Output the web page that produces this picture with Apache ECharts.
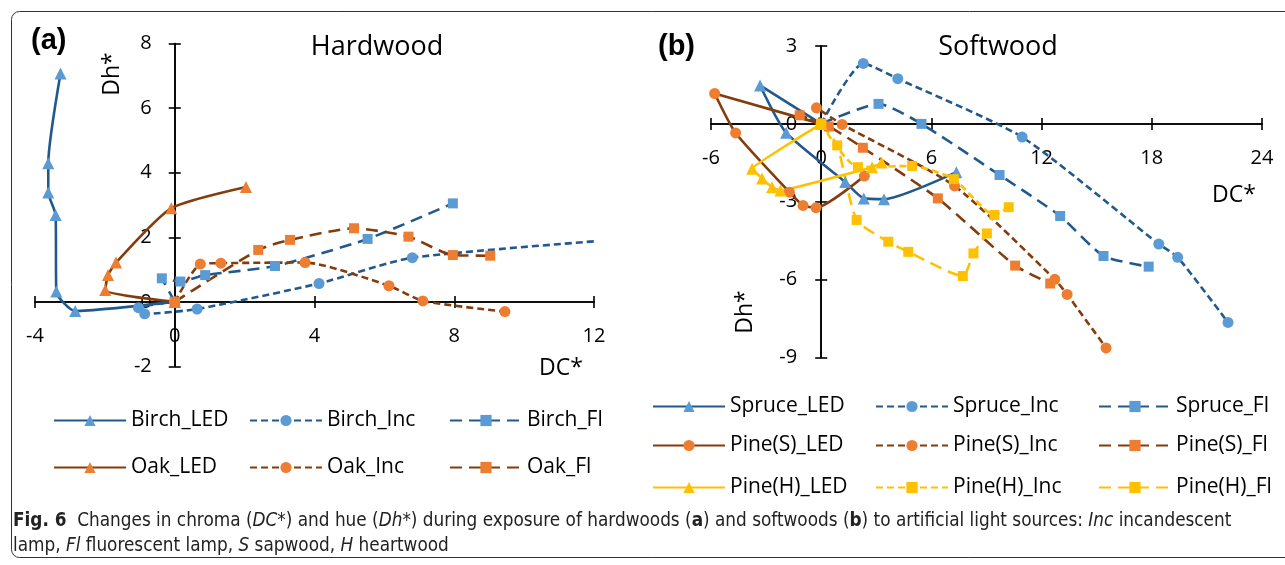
<!DOCTYPE html>
<html>
<head>
<meta charset="UTF-8">
<title>Fig. 6 DC* / Dh*</title>
<script src="https://cdn.jsdelivr.net/npm/echarts@6/dist/echarts.min.js"></script>
<style>
    html, body { margin: 0; padding: 0; background: #fff; }
    #chart { width: 1285px; height: 565px; }
</style>
</head>
<body>
<div id="chart"></div>
<script>
    // ---- data: [DC*, Dh*] pairs ----
    // (a) hardwood
    const birchLED = [[0, 0], [-2.85, -0.28], [-3.39, 0.32], [-3.41, 2.69], [-3.62, 3.39], [-3.62, 4.29], [-3.27, 7.07]];
    const birchInc = [[0, 0], [-1.04, -0.18], [-0.86, -0.37], [0.64, -0.22], [4.13, 0.57], [6.8, 1.37], [14.5, 2.08]];
    const birchFl = [[0, 0], [-0.37, 0.73], [0.16, 0.63], [0.87, 0.83], [2.87, 1.11], [5.52, 1.95], [7.96, 3.05]];
    const oakLED = [[0, 0], [-1.99, 0.37], [-1.91, 0.83], [-1.68, 1.22], [-0.1, 2.9], [2.04, 3.56]];
    const oakInc = [[0, 0], [0.73, 1.17], [1.32, 1.2], [3.73, 1.22], [6.13, 0.5], [7.1, 0.03], [9.45, -0.3]];
    const oakFl = [[0, 0], [2.39, 1.61], [3.3, 1.92], [5.13, 2.28], [6.69, 2.02], [7.96, 1.45], [9.03, 1.43]];
    // (b) softwood
    const spruceLED = [[0, 0], [-3.33, 1.48], [-1.91, -0.34], [1.31, -2.24], [2.32, -2.87], [3.42, -2.9], [7.36, -1.86]];
    const spruceInc = [[0, 0], [2.29, 2.33], [4.17, 1.74], [10.94, -0.51], [18.38, -4.63], [19.41, -5.14], [22.15, -7.65]];
    const spruceFl = [[0, 0], [3.12, 0.77], [5.46, 0], [9.71, -1.97], [13.01, -3.55], [15.37, -5.09], [17.83, -5.5]];
    const pineSLED = [[0, 0], [-5.8, 1.17], [-4.66, -0.35], [-1.73, -2.63], [-0.99, -3.14], [-0.28, -3.23], [2.35, -2.01]];
    const pineSInc = [[0, 0], [-0.26, 0.62], [1.14, -0.02], [7.26, -2.39], [12.72, -5.99], [13.39, -6.57], [15.51, -8.63]];
    const pineSFl = [[0, 0], [-1.17, 0.33], [0.41, -0.1], [2.27, -0.92], [6.35, -2.87], [10.56, -5.46], [12.47, -6.15]];
    const pineHLED = [[0, 0], [-3.76, -1.73], [-3.22, -2.1], [-2.68, -2.44], [-2.22, -2.57], [2.77, -1.67], [3.29, -1.49]];
    const pineHInc = [[0, 0], [2.0, -1.67], [4.95, -1.62], [7.22, -2.13], [9.43, -3.51], [10.21, -3.21]];
    const pineHFl = [[0, 0], [0.87, -0.83], [1.93, -3.7], [3.65, -4.54], [4.74, -4.93], [7.71, -5.86], [8.29, -4.99], [9.02, -4.22]];

    const hardNames = ['Birch_LED', 'Birch_Inc', 'Birch_Fl', 'Oak_LED', 'Oak_Inc', 'Oak_Fl'];
    const softNames = ['Spruce_LED', 'Spruce_Inc', 'Spruce_Fl', 'Pine(S)_LED', 'Pine(S)_Inc', 'Pine(S)_Fl',
        'Pine(H)_LED', 'Pine(H)_Inc', 'Pine(H)_Fl'];
    const hardData = [birchLED, birchInc, birchFl, oakLED, oakInc, oakFl];
    const softData = [spruceLED, spruceInc, spruceFl, pineSLED, pineSInc, pineSFl, pineHLED, pineHInc, pineHFl];

    const hardX = [-4, 12, 4];   // min, max, step
    const hardY = [-2, 8, 2];
    const softX = [-6, 24, 6];
    const softY = [-9, 3, 3];

    // ---- styles ----
    const FONT = '"Open Sans", sans-serif';
    const lineColors = { blue: '#22598c', brown: '#843c0c', gold: '#ffc000' };
    const markColors = { blue: '#5b9bd5', brown: '#ed7d31', gold: '#ffc000' };
    const dashes = { LED: 'solid', Inc: [7, 4], Fl: [12, 7] };
    const straighter = ['Pine(H)_LED'];  // drawn with almost straight segments

    const gridA = { left: 35, top: 43.5, width: 559, height: 323 };
    const gridB = { left: 711, top: 46, width: 551, height: 311.5 };

    function styleFor(name) {
        const light = name.split('_')[1];
        let fam = 'blue';
        if (name.startsWith('Oak') || name.startsWith('Pine(S)')) fam = 'brown';
        if (name.startsWith('Pine(H)')) fam = 'gold';
        let symbol = light === 'LED' ? 'triangle' : (light === 'Inc' ? 'circle' : 'rect');
        if (name === 'Pine(S)_LED') symbol = 'circle';
        if (name === 'Pine(H)_Inc') symbol = 'rect';
        return { fam, light, symbol };
    }

    function makeSeries(name, data, axisIdx) {
        const s = styleFor(name);
        return {
            name: name,
            type: 'line',
            xAxisIndex: axisIdx,
            yAxisIndex: axisIdx,
            data: data,
            smooth: straighter.includes(name) ? 0.06 : 0.2,
            clip: true,
            symbol: s.symbol,
            symbolSize: s.symbol === 'triangle' ? 12 : (s.symbol === 'circle' ? 11 : 10),
            showAllSymbol: true,
            lineStyle: { color: lineColors[s.fam], width: 2.6, type: dashes[s.light] },
            itemStyle: { color: markColors[s.fam], borderWidth: 0 },
            emphasis: { disabled: true },
            z: 3
        };
    }

    // axes crossing at (0,0): shift them in from the grid edge with "offset";
    // a twin axis on the opposite side gives the tick marks that cross the line
    const axisLine = { show: true, onZero: false, lineStyle: { color: '#000', width: 1.6 } };
    const tick = { length: 6, lineStyle: { color: '#000', width: 1.6 } };

    function axesFor(grid, g, xr, yr, xMargin, yMargin) {
        const fromBottom = g.height * (0 - yr[0]) / (yr[1] - yr[0]);
        const fromLeft = g.width * (0 - xr[0]) / (xr[1] - xr[0]);
        const base = (r) => ({ gridIndex: grid, type: 'value', min: r[0], max: r[1], interval: r[2], splitLine: { show: false } });
        const lbl = (m) => ({ margin: m, color: '#000', fontSize: 20, fontFamily: FONT, showMinLabel: true, showMaxLabel: true });
        return {
            x: [
                Object.assign(base(xr), { position: 'bottom', offset: -fromBottom, axisLine, axisTick: tick, axisLabel: lbl(xMargin) }),
                Object.assign(base(xr), { position: 'top', offset: -(g.height - fromBottom), axisLine, axisTick: tick, axisLabel: { show: false } })
            ],
            y: [
                Object.assign(base(yr), { position: 'left', offset: -fromLeft, axisLine, axisTick: tick, axisLabel: lbl(yMargin) }),
                Object.assign(base(yr), { position: 'right', offset: -(g.width - fromLeft), axisLine, axisTick: tick, axisLabel: { show: false } })
            ]
        };
    }
    const axA = axesFor(0, gridA, hardX, hardY, 24, 23);
    const axB = axesFor(1, gridB, softX, softY, 24, 24);

    const legends = [];
    function addLegends(names, lefts, rows) {
        names.forEach((n, i) => {
            const col = i % 3, row = Math.floor(i / 3);
            legends.push({
                data: [n],
                left: lefts[col],
                top: rows[row] - 8,
                padding: 0,
                itemWidth: 72,
                itemHeight: 14,
                selectedMode: false,
                textStyle: { fontSize: 21, fontFamily: FONT, color: '#000', lineHeight: 14 }
            });
        });
    }
    addLegends(hardNames, [53, 249, 449], [418, 465]);
    addLegends(softNames, [652, 875, 1098], [404, 443, 485]);

    function label(text, x, y, size, opts) {
        return Object.assign({
            type: 'text', x: x, y: y,
            style: { text: text, fill: '#000', font: size + 'px ' + FONT, align: 'center', verticalAlign: 'middle' }
        }, opts || {});
    }

    const capFont = '"Liberation Sans Narrow", "DejaVu Sans Condensed", sans-serif';
    const capSize = 18.8;
    const capRich = {
        b: { fontWeight: 'bold', fontFamily: capFont, fontSize: capSize, fill: '#222' },
        i: { fontStyle: 'italic', fontFamily: capFont, fontSize: capSize, fill: '#222' }
    };

    const chart = echarts.init(document.getElementById('chart'));
    const option = {
        animation: false,
        grid: [
            Object.assign({ outerBoundsMode: 'none', containLabel: false }, gridA),
            Object.assign({ outerBoundsMode: 'none', containLabel: false }, gridB)
        ],
        xAxis: axA.x.concat(axB.x),
        yAxis: axA.y.concat(axB.y),
        legend: legends,
        series: [].concat(
            hardNames.map((n, i) => makeSeries(n, hardData[i], 0)),
            softNames.map((n, i) => makeSeries(n, softData[i], 2))
        ),
        graphic: [
            { type: 'rect', shape: { x: 11.5, y: 11.5, width: 1300, height: 546, r: 8 },
              style: { fill: 'none', stroke: '#333', lineWidth: 1 }, silent: true },
            { type: 'text', x: 31, y: 41, style: { text: '(a)', fill: '#000', font: 'bold 29px "Liberation Sans", Arial, sans-serif', verticalAlign: 'middle' } },
            { type: 'text', x: 658, y: 47, style: { text: '(b)', fill: '#000', font: 'bold 29px "Liberation Sans", Arial, sans-serif', verticalAlign: 'middle' } },
            label('Hardwood', 377, 47, 27),
            label('Softwood', 998, 47, 27),
            label('Dh*', 112, 74, 23, { rotation: Math.PI / 2 }),
            label('DC*', 561, 368, 23),
            label('DC*', 1234, 195, 23),
            label('Dh*', 745, 312, 23, { rotation: Math.PI / 2 }),
            { type: 'text', x: 13, y: 521, style: {
                text: '{b|Fig. 6}  Changes in chroma ({i|DC*}) and hue ({i|Dh*}) during exposure of hardwoods ({b|a}) and softwoods ({b|b}) to artificial light sources: {i|Inc} incandescent',
                rich: capRich, fontFamily: capFont, fontSize: capSize, fill: '#222', verticalAlign: 'middle' } },
            { type: 'text', x: 13, y: 546, style: {
                text: 'lamp, {i|Fl} fluorescent lamp, {i|S} sapwood, {i|H} heartwood',
                rich: capRich, fontFamily: capFont, fontSize: capSize, fill: '#222', verticalAlign: 'middle' } }
        ]
    };
    chart.setOption(option);
</script>
</body>
</html>
